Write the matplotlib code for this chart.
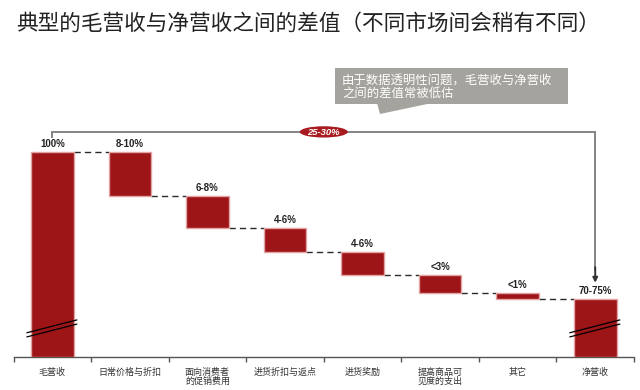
import matplotlib.pyplot as plt
import numpy as np
from matplotlib.patches import Ellipse, Polygon, Rectangle

plt.rcParams['font.family'] = ['Noto Sans CJK SC', 'DejaVu Sans']

# Data
categories = ['毛营收', '日常价格与折扣', '面向消费者\n的促销费用', '进货折扣与返点',
              '进货奖励', '提高商品可\n见度的支出', '其它', '净营收']
gross = 100.0
drops = [9.0, 6.5, 4.9, 4.7, 3.7, 1.2]   # drawn step sizes
value_labels = ['100%', '8-10%', '6-8%', '4-6%', '4-6%', '<3%', '<1%', '70-75%']
gap_label = '25-30%'
title = '典型的毛营收与净营收之间的差值（不同市场间会稍有不同）'
note = '由于数据透明性问题，毛营收与净营收\n之间的差值常被低估'

net = gross - sum(drops)

# colours
bar_c = '#9E1518'
edge_c = '#E3A3A3'
grey = '#858585'

fig = plt.figure(figsize=(6.4, 3.9), dpi=100)
ax = fig.add_axes([13.5 / 640, 33.3 / 390, 620.5 / 640, 246.7 / 390])

y0 = 58.2
ax.set_xlim(-0.5, 7.5)
ax.set_ylim(y0, 108.57)

w = 0.55
n = len(categories)
x = np.arange(n)

# bottoms / heights of the waterfall
levels = [gross]
for d in drops:
    levels.append(levels[-1] - d)
bottoms = [y0] + levels[1:] + [y0]
tops = [gross] + levels[:-1] + [net]
heights = [t - b for t, b in zip(tops, bottoms)]

ax.bar(x, heights, bottom=bottoms, width=w, color=bar_c, edgecolor=edge_c,
       linewidth=1.0, zorder=3)

# dashed connectors
for i in range(n - 1):
    lvl = levels[i]
    ax.plot([i + w / 2, i + 1 - w / 2], [lvl, lvl], color='#2a2a2a', lw=1.0,
            dashes=(4.5, 3), zorder=2)

# value labels
for i in range(n):
    ax.annotate(value_labels[i], (x[i], tops[i]), xytext=(0, 2),
                textcoords='offset points', ha='center', va='bottom',
                fontsize=7, fontweight='bold', color='#222222',
                family=['Liberation Sans', 'DejaVu Sans'])

# axis break marks on the first and last bar
for i in (0, n - 1):
    for off in (0.0, -0.85):
        ax.plot([i - w / 2 - 0.05, i + w / 2 + 0.04],
                [63.1 + off, 65.7 + off], color='black', lw=0.9, zorder=4)

# bracket with arrow to net revenue
yb = 104.1
ax.plot([0, 0, n - 1, n - 1], [103.0, yb, yb, 76], color=grey, lw=1.4,
        clip_on=False, zorder=1, solid_joinstyle='miter')
ax.annotate('', xy=(n - 1, 73.3), xytext=(n - 1, 76.5),
            arrowprops=dict(arrowstyle='-|>', color='#333333', lw=1.4,
                            mutation_scale=7, shrinkA=0, shrinkB=0))
ax.add_patch(Ellipse(((n - 1) / 2, yb), width=0.62, height=2.3,
                     facecolor='#A81B20', edgecolor='none', zorder=5,
                     clip_on=False))
ax.text((n - 1) / 2, yb - 0.05, gap_label, ha='center', va='center',
        fontsize=6.8, fontweight='bold', style='italic', color='white',
        zorder=6, family=['Liberation Sans', 'DejaVu Sans'])

# axes styling
for s in ('top', 'right', 'left'):
    ax.spines[s].set_visible(False)
ax.spines['bottom'].set_color('#555555')
ax.spines['bottom'].set_linewidth(1.0)
ax.set_yticks([])
ax.set_xticks(x)
ax.set_xticklabels(categories, fontsize=6.5, color='#333333', linespacing=1.0)
ax.tick_params(axis='x', which='major', length=0, pad=8)
ax.set_xticks(np.arange(-0.5, n, 1.0), minor=True)
ax.tick_params(axis='x', which='minor', length=3.5, width=1.0, color='#555555',
               direction='out')

# callout box
box_c = '#A5A39D'
fig.patches.append(Rectangle((335 / 640, 1 - 104 / 390), 233 / 640, 36 / 390,
                             transform=fig.transFigure, facecolor=box_c,
                             edgecolor='none'))
tri = np.array([[377, 103], [432, 103], [380, 114]], dtype=float)
tri[:, 0] /= 640
tri[:, 1] = 1 - tri[:, 1] / 390
fig.patches.append(Polygon(tri, closed=True, transform=fig.transFigure,
                           facecolor=box_c, edgecolor='none'))
fig.text(342 / 640, 1 - 86.5 / 390, note, ha='left', va='center', fontsize=8.9,
         color='white', linespacing=1.05)

fig.text(16 / 640, 1 - 24 / 390, title, ha='left', va='center', fontsize=15.6,
         color='#222222')

fig.savefig('out.png', dpi=100)
